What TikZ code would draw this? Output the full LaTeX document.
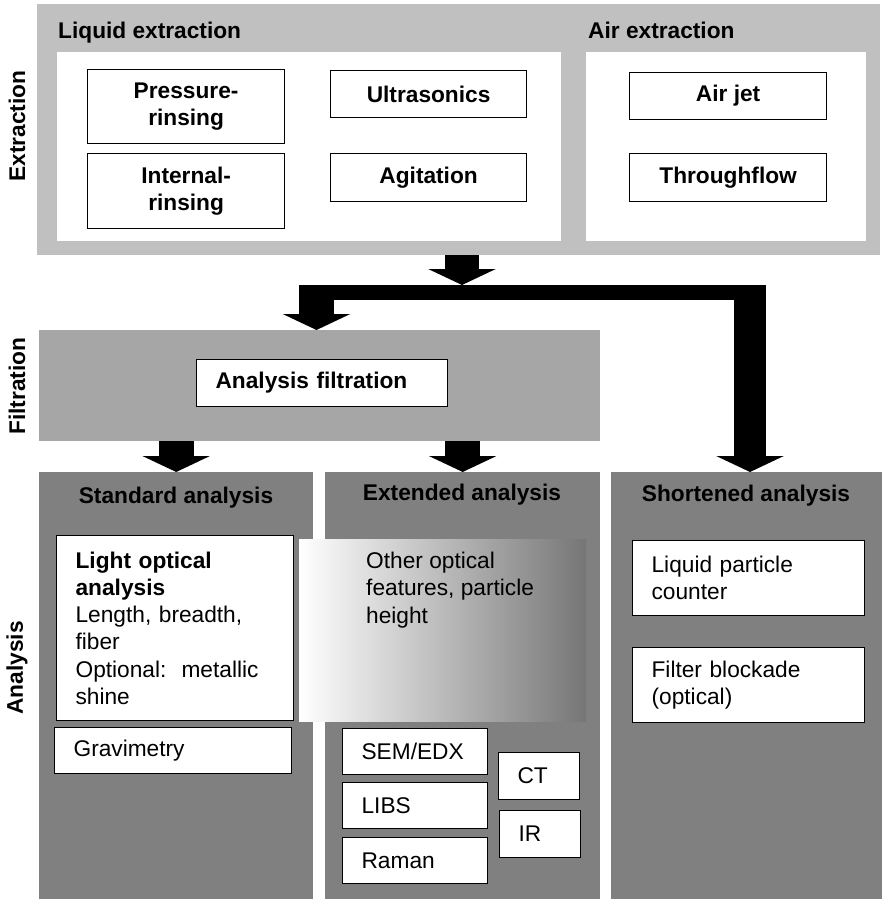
\documentclass[tikz,border=0pt]{standalone}
\usepackage{fontspec}
\setmainfont{Liberation Sans}
\usetikzlibrary{arrows.meta}
\definecolor{extgray}{HTML}{C0C0C0}
\definecolor{filtgray}{HTML}{A6A6A6}
\definecolor{anagray}{HTML}{808080}
\newcommand{\bodyfont}{\fontsize{22.7}{27.2}\selectfont}
\frenchspacing

\begin{document}
\begin{tikzpicture}[x=1pt,y=-1pt,
    region/.style={anchor=north west, inner sep=0pt},
    methodbox/.style={draw, fill=white, line width=1.2pt, anchor=north west, inner sep=0pt, align=center, font=\bodyfont\bfseries},
    itembox/.style={draw, fill=white, line width=1.2pt, anchor=north west, inner xsep=19pt, inner ysep=0pt, align=left, font=\bodyfont},
    heading/.style={font=\bodyfont\bfseries, inner sep=0pt},
    blockarrow/.style={line width=34pt, -{Triangle[width=67pt,length=16pt]}}]
    \useasboundingbox (0,0) rectangle (882,899);
    % extraction
    \node[region, fill=extgray, minimum width=843pt, minimum height=251pt] (ext) at (37,4) {};
    \node[region, fill=white, minimum width=504pt, minimum height=189pt] (liq) at (57,52) {};
    \node[region, fill=white, minimum width=280pt, minimum height=189pt] (air) at (586,52) {};
    \node[heading, anchor=base west] (liqlbl) at (58,39) {Liquid extraction};
    \node[heading, anchor=base west] (airlbl) at (588,39) {Air extraction};
    \node[methodbox, minimum width=197pt, minimum height=74pt] (press) at (87,69) {Pressure-\\rinsing};
    \node[methodbox, minimum width=197pt, minimum height=75pt] (internal) at (87,153) {Internal-\\rinsing};
    \node[methodbox, minimum width=196pt, minimum height=47pt] (ultra) at (330,70) {Ultrasonics};
    \node[methodbox, minimum width=196pt, minimum height=48pt] (agit) at (330,153) {Agitation};
    \node[methodbox, minimum width=197pt, minimum height=47pt] (airjet) at (629,72) {Air jet};
    \node[methodbox, minimum width=197pt, minimum height=48pt] (through) at (629,153) {Throughflow};
    % filtration
    \node[region, fill=filtgray, minimum width=561pt, minimum height=111pt] (filt) at (39,330) {};
    \node[methodbox, text width=213pt, inner xsep=19pt, minimum height=47pt, align=left] (anfilt) at (196,359) {Analysis filtration};
    % analysis
    \node[region, fill=anagray, minimum width=274pt, minimum height=427pt] (std) at (39,472) {};
    \node[region, fill=anagray, minimum width=275pt, minimum height=427pt] (extd) at (325,472) {};
    \node[region, fill=anagray, minimum width=271pt, minimum height=427pt] (short) at (611,472) {};
    \node[heading, anchor=base] (stdlbl) at (176,503) {Standard analysis};
    \node[heading, anchor=base] (extdlbl) at (462,500) {Extended analysis};
    \node[heading, anchor=base] (shortlbl) at (746,501) {Shortened analysis};
    \node[itembox, text width=199pt, minimum height=185pt] (lightopt) at (56,535) {\textbf{Light optical}\\\textbf{analysis}\\Length, breadth,\\fiber\\Optional:~ metallic\\shine};
    \node[region, minimum width=287pt, minimum height=182pt, left color=white, middle color=white!62!anagray, right color=anagray!92!black] (optshade) at (299,539) {};
    \node[anchor=north west, inner sep=0pt, align=left, font=\bodyfont] (opttxt) at (366,552) {Other optical\\features, particle\\height};
    \node[itembox, text width=199pt, minimum height=46pt] (grav) at (54,727) {Gravimetry};
    \node[itembox, text width=107pt, minimum height=46pt] (sem) at (342,728) {SEM/EDX};
    \node[itembox, text width=107pt, minimum height=46pt] (libs) at (342,782) {LIBS};
    \node[itembox, text width=107pt, minimum height=46pt] (raman) at (342,837) {Raman};
    \node[itembox, text width=43pt, minimum height=47pt] (ct) at (498,752) {CT};
    \node[itembox, text width=43pt, minimum height=47pt] (ir) at (499,810) {IR};
    \node[itembox, text width=194pt, minimum height=75pt] (lpc) at (632,540) {Liquid particle\\counter};
    \node[itembox, text width=194pt, minimum height=75pt] (fblock) at (632,647) {Filter blockade\\(optical)};
    % stage labels
    \node[heading, rotate=90] (lblext) at (17,126) {Extraction};
    \node[heading, rotate=90] (lblfilt) at (17,386) {Filtration};
    \node[heading, rotate=90] (lblana) at (17,668) {Analysis};
    % block arrows
    \coordinate (split) at (462,285);
    \coordinate (barl) at (299,292.5);
    \coordinate (barr) at (766,292.5);
    \coordinate (tofilt) at (316.5,285);
    \coordinate (toshort) at (750,285);
    \draw[blockarrow] (ext.south -| split) -- (split);
    \draw[line width=15pt] (barl) -- (barr);
    \draw[blockarrow, line width=35pt] (tofilt) -- (tofilt |- filt.north);
    \draw[blockarrow, line width=32pt] (toshort) -- (toshort |- short.north);
    \draw[blockarrow, line width=35pt] (filt.south -| std.north) -- (std.north);
    \draw[blockarrow, line width=35pt] (filt.south -| extd.north) -- (extd.north);
\end{tikzpicture}
\end{document}
